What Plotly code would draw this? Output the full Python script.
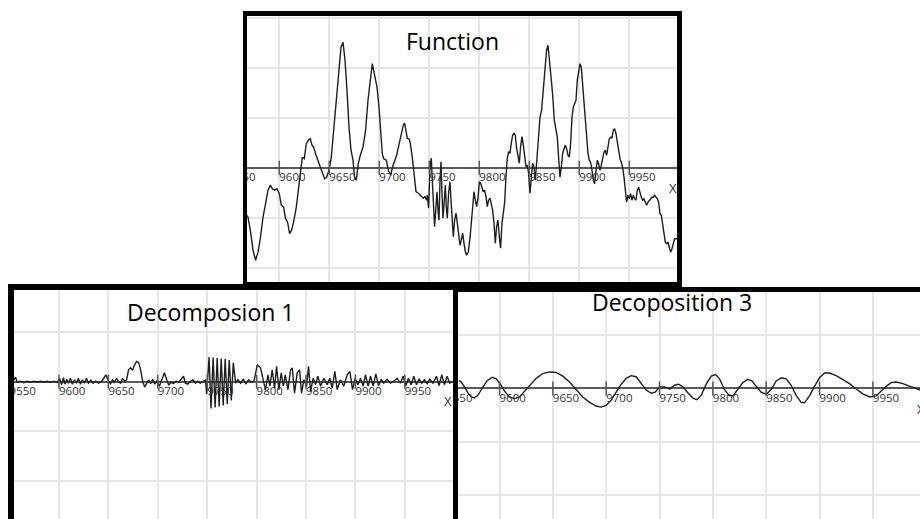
import plotly.graph_objects as go

W, H = 920, 519

# ---------------- data ----------------
f_x = [9567.7, 9568.7, 9571, 9573.7, 9576.3, 9578.7, 9581, 9583.7, 9586.3, 9588.7, 9591, 9593, 9595.3, 9597.7,
       9600, 9602, 9604.3, 9606.3, 9608.3, 9610.3, 9612.3, 9614.3, 9617, 9619.7, 9621.3, 9623, 9625, 9627,
       9629, 9631, 9632.7, 9634.3, 9636.3, 9638.3, 9640.3, 9643, 9645.3, 9647.3, 9649.7, 9652, 9654.3, 9657,
       9659.7, 9661.7, 9663.7, 9665.7, 9667.7, 9669.7, 9671.7, 9673.7, 9675.3, 9677, 9679, 9681, 9683.7,
       9686.3, 9688.7, 9691, 9693, 9695, 9697.7, 9699.7, 9701.7, 9703, 9704.3, 9707, 9709, 9711.5, 9713,
       9714.7, 9717.3, 9720, 9722.3, 9724, 9725.3, 9726.7, 9728, 9730, 9731.3, 9733.3, 9734.7, 9736.7, 9739,
       9740.7, 9742.3, 9744, 9745.7, 9747.3, 9748, 9749.3, 9750.7, 9752, 9753, 9754, 9755.3, 9756.7, 9757.7,
       9758.7, 9759.7, 9760.7, 9761.7, 9762.7, 9763.7, 9765, 9766, 9767, 9768, 9769.3, 9770.7, 9771.7, 9772.7,
       9774, 9775.3, 9776.7, 9778, 9779.3, 9780.7, 9782, 9783.3, 9784.7, 9786, 9787.3, 9789, 9790.7, 9792,
       9793.3, 9794.7, 9796, 9797.3, 9798.7, 9800, 9801.3, 9802.7, 9804, 9805.3, 9806.7, 9808, 9809.3, 9810.7,
       9812, 9813.3, 9814.7, 9816, 9817.3, 9818.7, 9820, 9821.3, 9822.7, 9824, 9825.3, 9826.7, 9828, 9829.3,
       9830.7, 9832, 9833.3, 9834.7, 9836, 9837.3, 9838.7, 9840, 9841.3, 9842.7, 9844, 9845.3, 9846.7, 9848,
       9849.3, 9850.7, 9852, 9853.3, 9854.7, 9856, 9857.3, 9858.7, 9860.7, 9862.3, 9864, 9865.7, 9867.3,
       9868.7, 9870, 9871.7, 9873.3, 9875, 9876.7, 9878, 9879.3, 9880.7, 9882, 9883.3, 9884.7, 9886, 9887.3,
       9888.7, 9890, 9891.3, 9892.7, 9894, 9895.3, 9896.7, 9898, 9899.3, 9900.7, 9902, 9903.3, 9904.7, 9906,
       9907.3, 9908.7, 9910, 9911.3, 9912.7, 9914, 9915.3, 9916.7, 9918, 9919.3, 9920.7, 9922, 9923.3, 9924.7,
       9926, 9927.3, 9928.7, 9930, 9931.3, 9932.7, 9934, 9935.3, 9936.7, 9938, 9939.3, 9940.7, 9942, 9943.3,
       9944.7, 9946, 9947.3, 9948.7, 9950, 9951.3, 9952.7, 9954, 9955.3, 9956.7, 9958, 9959.3, 9960.7, 9962,
       9963.3, 9964.7, 9966, 9967.3, 9968.7, 9970, 9971.3, 9972.7, 9974, 9975.3, 9976.7, 9978, 9979.3, 9980.7,
       9982, 9983.3, 9984.7, 9986, 9987.3, 9988.7, 9990, 9991.3, 9992.7, 9994, 9995.3, 9997.7]
f_y = [-0.95, -0.99, -1.25, -1.65, -1.85, -1.69, -1.42, -0.99, -0.72, -0.45, -0.35, -0.42, -0.45, -0.42,
       -0.52, -0.75, -0.79, -1.02, -1.09, -1.32, -1.25, -1.09, -0.79, -0.32, 0.01, 0.21, 0.18, 0.48,
       0.55, 0.58, 0.45, 0.41, 0.28, 0.15, 0.05, -0.09, -0.22, -0.19, -0.05, 0.21, 0.75, 1.41,
       2.08, 2.41, 2.51, 2.15, 1.55, 0.81, 0.35, 0.15, -0.19, -0.25, 0.08, 0.25, 0.41,
       0.75, 1.35, 1.81, 2.08, 1.88, 1.61, 1.21, 0.75, 0.28, 0.18, 0.15, -0.05, -0.15, 0.0,
       0.09, 0.25, 0.49, 0.72, 0.85, 0.89, 0.75, 0.59, 0.57, 0.45, 0.15, -0.18, -0.48, -0.51,
       -0.55, -0.58, -0.61, -0.58, -0.65, -0.55, -0.81, 0.02, 0.19, -0.25, -0.85, -1.18, -0.78, -0.48,
       -0.85, -1.05, -0.25, 0.12, -0.51, -1.01, -0.65, -0.35, -0.78, -1.01, -0.51, -0.28, -0.65, -1.05,
       -1.38, -1.05, -0.91, -1.11, -1.38, -1.55, -1.45, -1.31, -1.51, -1.68, -1.75, -1.68, -1.41, -1.05,
       -0.71, -0.48, -0.65, -0.78, -0.61, -0.28, -0.31, -0.38, -0.48, -0.45, -0.58, -0.78, -0.65, -0.61,
       -0.75, -0.85, -1.11, -1.51, -1.18, -1.05, -1.38, -1.61, -1.11, -0.85, -0.71, -0.18, 0.19, 0.32,
       0.29, 0.49, 0.65, 0.69, 0.65, 0.39, 0.19, 0.09, 0.42, 0.62, 0.45, 0.22, 0.02, 0.05,
       -0.11, -0.51, -0.18, 0.09, 0.02, -0.25, 0.09, 0.55, 1.01, 1.15, 1.61, 2.01, 2.35,
       2.45, 2.21, 1.88, 1.48, 0.95, 0.71, 0.61, 0.21, -0.19, 0.01, 0.28, 0.38, 0.45, 0.38,
       0.25, 0.21, 0.48, 1.01, 1.21, 1.28, 1.35, 1.75, 1.95, 2.08, 2.01, 1.68, 1.35, 0.95,
       0.55, 0.28, 0.15, 0.11, -0.05, -0.25, -0.32, 0.01, 0.15, 0.08, -0.05, 0.05, 0.21, 0.31,
       0.35, 0.25, 0.41, 0.58, 0.61, 0.6, 0.75, 0.78, 0.68, 0.48, 0.28, 0.18, 0.11, 0.01,
       -0.19, -0.52, -0.69, -0.55, -0.62, -0.52, -0.65, -0.55, -0.62, -0.65, -0.45, -0.39, -0.52, -0.59,
       -0.65, -0.62, -0.69, -0.75, -0.69, -0.65, -0.62, -0.59, -0.59, -0.55, -0.59, -0.62, -0.69, -0.92,
       -0.95, -1.12, -1.32, -1.49, -1.52, -1.49, -1.59, -1.69, -1.62, -1.49, -1.42, -1.42]

d1_x = [9553, 9554.3, 9556, 9557.7, 9561.1, 9564.4, 9567.8, 9571.2, 9574.6, 9578, 9581.4, 9584.8, 9588.1,
        9591.5, 9594.9, 9598.3, 9600.7, 9602.7, 9604.4, 9606.1, 9607.8, 9609.5, 9611.5, 9613.5, 9615.6,
        9617.6, 9619.6, 9621.7, 9623.7, 9625.7, 9627.8, 9629.8, 9632.2, 9634.5, 9637.3, 9640, 9642.7,
        9644.7, 9647.4, 9650.1, 9652.2, 9654.2, 9656.2, 9658.2, 9660.3, 9662.3, 9664.3, 9666.4, 9668.4,
        9670.4, 9672.5, 9674.5, 9676.5, 9678.6, 9680.6, 9682.6, 9684.7, 9686.7, 9688.7, 9690.8, 9692.8,
        9694.8, 9696.9, 9698.9, 9701.6, 9704.3, 9706.7, 9709, 9711.1, 9713.4, 9715.8, 9718.5, 9721.2,
        9723.6, 9726, 9728, 9730.4, 9732.7, 9735.5, 9738.2, 9740.5, 9742.9, 9745.6, 9748.3,
        9749.5, 9751.9, 9753.9, 9756, 9758, 9760.1, 9762.1, 9764.2, 9766.2, 9768.2, 9770.3, 9772.3,
        9774.4, 9776.4,
        9778.8, 9781.1, 9783.8, 9786.5, 9789.2, 9791.9, 9794.6, 9797.3, 9800.7, 9804, 9807.4, 9809.1,
        9811.5, 9813.5, 9815.8, 9818.2, 9820.2, 9822.6, 9824.9, 9827, 9829, 9831.7, 9834.4, 9836.1,
        9838.4, 9841.1, 9843.5, 9845.5, 9847.9, 9850.6, 9852.6, 9854.6, 9857.3, 9859.7, 9862, 9864.7,
        9868.1, 9871.5, 9874.1, 9876.5, 9879.2, 9881.6, 9884.9, 9888.3, 9891.7, 9894.4, 9897.1, 9899.8,
        9902.5, 9905.2, 9907.9, 9910.2, 9912.9, 9915.3, 9918, 9920.7, 9923.4, 9926.1, 9928.7, 9932.1,
        9935.5, 9938.9, 9942.2, 9945.6, 9948.3, 9951, 9953.7, 9956.4, 9959.1, 9961.8, 9964.5, 9967.2,
        9969.9, 9972.6, 9975.3, 9978.6, 9982, 9984.7, 9987.4, 9990.1, 9992.8, 9995.5, 9997.8]
d1_y = [0.0, 0.04, 0.09, -0.01, 0.01, -0.02, 0.01, -0.01, 0.01, -0.01, 0.01, -0.01, 0.01,
        -0.01, 0.01, -0.02, 0.07, -0.06, 0.08, -0.05, 0.05, -0.03, 0.07, -0.05, 0.04,
        -0.03, 0.07, -0.05, 0.04, -0.03, 0.07, -0.03, 0.03, -0.03, 0.01, -0.03, 0.0,
        0.05, 0.14, 0.01, -0.04, 0.04, -0.01, 0.07, 0.0, -0.03, 0.07, 0.01, 0.04,
        0.24, 0.28, 0.23, 0.34, 0.41, 0.39, 0.24, 0.01, -0.11, -0.03, 0.04, -0.04,
        0.05, -0.05, 0.01, -0.09, 0.07, 0.18, 0.04, -0.07, -0.01, -0.04, 0.01, -0.01,
        0.05, 0.11, -0.03, -0.05, 0.0, 0.04, -0.03, 0.01, -0.03, 0.0, 0.03,
        -0.25, 0.5, -0.54, 0.49, -0.52, 0.48, -0.5, 0.47, -0.48, 0.46, -0.45, 0.44,
        -0.38, 0.38,
        -0.03, 0.04, -0.03, 0.05, -0.04, 0.04, -0.01, 0.01, 0.34, 0.28, -0.03, -0.16,
        0.14, -0.09, 0.24, -0.13, 0.31, -0.16, 0.18, -0.09, 0.14, -0.16, 0.24, 0.28,
        -0.23, 0.18, 0.24, -0.23, 0.04, -0.09, 0.31, -0.2, 0.07, -0.06, 0.11, -0.09,
        0.07, -0.06, 0.07, -0.13, 0.21, -0.16, 0.04, -0.09, 0.14, 0.21, -0.16, 0.07,
        -0.06, 0.07, -0.09, 0.14, -0.09, 0.11, -0.09, 0.16, -0.08, 0.04, -0.03, 0.05,
        -0.03, 0.01, 0.07, -0.03, 0.11, -0.08, 0.07, -0.06, 0.11, -0.06, 0.05, -0.03,
        0.04, -0.04, 0.05, -0.03, 0.11, -0.08, 0.14, -0.06, 0.11, -0.03, 0.01]

d3_x = [9562, 9564.1, 9567.2, 9570.3, 9573.4, 9576.6, 9579.7, 9583.8, 9588.1, 9593.1, 9596.9, 9600.6,
        9604.7, 9609.4, 9614.1, 9618.8, 9623.4, 9628.1, 9634.4, 9640.6, 9646.9, 9653.1, 9659.4, 9665.6,
        9671.9, 9678.1, 9684.4, 9690.6, 9695.3, 9700, 9704.7, 9709.4, 9714.1, 9718.8, 9723.4, 9728.1,
        9732.8, 9737.5, 9742.2, 9745.9, 9750, 9754.7, 9759.4, 9764.1, 9768.1, 9771.9, 9776.6, 9781.3,
        9785, 9789.1, 9793.8, 9798.4, 9802.5, 9806.3, 9810.9, 9815, 9818.8, 9823.4, 9828.1, 9832.8,
        9836.9, 9840.6, 9845.3, 9850, 9854.7, 9859.4, 9864.1, 9868.8, 9873.4, 9878.1, 9882.8, 9885.9,
        9890.6, 9895.3, 9900, 9904.7, 9909.4, 9915.6, 9921.9, 9928.1, 9934.4, 9940.6, 9946.9, 9953.1,
        9957.8, 9962.5, 9967.2, 9971.9, 9978.1, 9984.4, 9990.6, 9994.4]
d3_y = [0.15, 0.12, 0.03, -0.08, -0.16, -0.18, -0.13, 0.01, 0.14, 0.21, 0.18, 0.09,
        -0.05, -0.16, -0.19, -0.16, -0.06, 0.06, 0.19, 0.28, 0.31, 0.3, 0.23, 0.12,
        -0.02, -0.16, -0.26, -0.33, -0.35, -0.32, -0.22, -0.08, 0.08, 0.19, 0.24, 0.22,
        0.09, -0.03, -0.09, -0.07, 0.03, 0.03, -0.01, 0.06, 0.08, 0.03, -0.08, -0.18,
        -0.21, -0.13, 0.08, 0.23, 0.26, 0.18, -0.02, -0.13, -0.14, -0.02, 0.11, 0.17,
        0.14, 0.04, -0.07, -0.11, -0.02, 0.14, 0.2, 0.18, 0.06, -0.13, -0.26, -0.27,
        -0.14, 0.04, 0.2, 0.29, 0.29, 0.24, 0.17, 0.09, -0.01, -0.1, -0.16, -0.14,
        -0.05, 0.04, 0.11, 0.12, 0.09, 0.04, -0.01, -0.03]

tick_vals = [9550, 9600, 9650, 9700, 9750, 9800, 9850, 9900, 9950]
tick_text = ["9550", "9600", "9650", "9700", "9750", "9800", "9850", "9900", "9950"]
titles = ["Function", "Decomposion 1", "Decoposition 3"]
axis_name = "X"

# ---------------- layout helpers ----------------
def px(x):
    return x / W


def py(y):
    return 1 - y / H


# panel boxes in pixels: (left, right, top, bottom), x range, y range
panels = [
    dict(box=(247, 677, 16, 283), xr=[9567.7, 9997.7], yr=[-2.306, 3.034]),
    dict(box=(14, 453, 290, 519), xr=[9554.45, 9998.8], yr=[-2.774, 1.853]),
    dict(box=(458, 920, 292, 519), xr=[9561.1, 9994.2], yr=[-2.45, 1.81]),
]
series = [(f_x, f_y), (d1_x, d1_y), (d3_x, d3_y)]

fig = go.Figure()
LAB_FS = 11.5
for i, (p, (sx, sy)) in enumerate(zip(panels, series)):
    n = "" if i == 0 else str(i + 1)
    xa, ya = "x" + n, "y" + n
    l, r, t, b = p["box"]
    ppu = (b - t) / (p["yr"][1] - p["yr"][0])
    lab_y = -4.7 / ppu
    fig.add_trace(go.Scatter(x=sx, y=sy, mode="lines", xaxis=xa, yaxis=ya,
                             line=dict(color="#1e1e1e", width=1.4), showlegend=False, hoverinfo="skip"))
    fig.add_trace(go.Scatter(x=tick_vals, y=[0] * len(tick_vals), mode="markers", xaxis=xa, yaxis=ya,
                             marker=dict(symbol="line-ns", size=10, line=dict(color="#555555", width=1.5)),
                             showlegend=False, hoverinfo="skip"))
    fig.add_trace(go.Scatter(x=tick_vals, y=[lab_y] * len(tick_vals), mode="text", text=tick_text,
                             textposition="bottom right", xaxis=xa, yaxis=ya,
                             textfont=dict(family="Open Sans", size=LAB_FS, color="#333333"),
                             showlegend=False, hoverinfo="skip"))
    common_grid = dict(showgrid=True, gridcolor="#e6e6e6", gridwidth=2, showticklabels=False,
                       ticks="", showline=False, fixedrange=True)
    fig.update_layout(**{
        "xaxis" + n: dict(domain=[px(l), px(r)], range=p["xr"], tick0=9550, dtick=50,
                          zeroline=False, anchor=ya, **common_grid),
        "yaxis" + n: dict(domain=[py(b), py(t)], range=p["yr"], tick0=0, dtick=1,
                          zeroline=True, zerolinecolor="#5a5a5a", zerolinewidth=2, anchor=xa, **common_grid),
    })

# panel titles and axis names
title_pos = [(452, 41), (211, 312), (672, 302)]
for (tx, ty), txt in zip(title_pos, titles):
    fig.add_annotation(x=px(tx), y=py(ty), xref="paper", yref="paper", text=txt, showarrow=False,
                       xanchor="center", yanchor="middle",
                       font=dict(family="Open Sans", size=23, color="#000000"))
for (tx, ty) in [(673, 188), (448, 401), (921, 409)]:
    fig.add_annotation(x=px(tx), y=py(ty), xref="paper", yref="paper", text=axis_name, showarrow=False,
                       xanchor="center", yanchor="middle",
                       font=dict(family="Open Sans", size=13, color="#333333"))

# thick black frames (pixel rects: x0, x1, y0, y1)
frames = [
    (243, 682, 11, 16), (243, 247, 11, 289), (677, 682, 11, 292), (243, 682, 282, 289),
    (8, 458, 284, 290), (8, 14, 284, 519), (453, 458, 284, 519),
    (453, 920, 287, 292),
]
for x0, x1, y0, y1 in frames:
    fig.add_shape(type="rect", xref="paper", yref="paper", x0=px(x0), x1=px(x1), y0=py(y1), y1=py(y0),
                  fillcolor="#000000", line=dict(width=0), layer="above")

fig.update_layout(width=W, height=H, margin=dict(l=0, r=0, t=0, b=0, pad=0),
                  paper_bgcolor="white", plot_bgcolor="white", showlegend=False)

fig.write_html("out.html", config={"displayModeBar": False},
               post_script="document.body.style.margin='0';document.body.style.padding='0';"
                           "document.body.style.overflow='hidden';")
